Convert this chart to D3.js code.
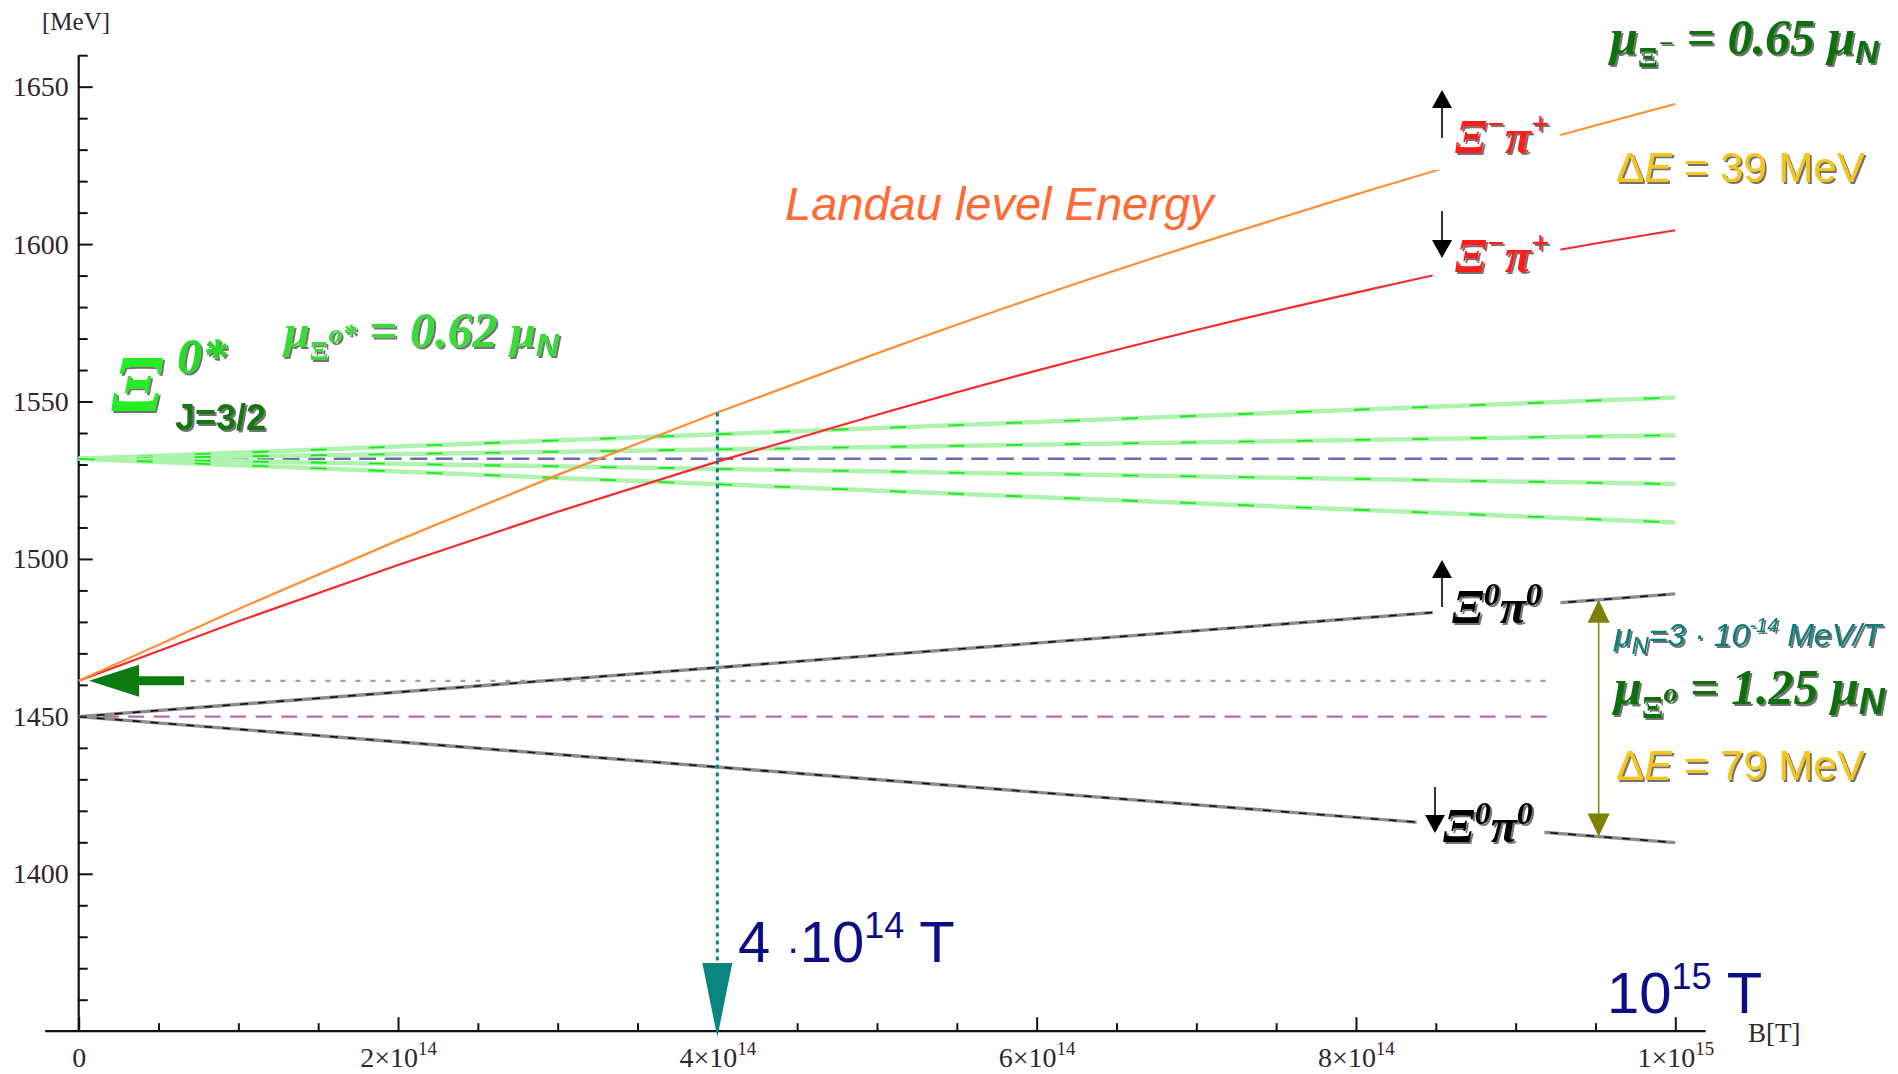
<!DOCTYPE html>
<html>
<head>
<meta charset="utf-8">
<script src="https://cdn.jsdelivr.net/npm/d3@7"></script>
<style>
  html, body { margin: 0; padding: 0; background: #fff; }
  svg { display: block; }
</style>
</head>
<body>
<svg id="chart" width="1898" height="1074"></svg>
<script>
// magnetic field B, in units of 1e14 T
const fieldB = [0, 1, 2, 3, 4, 5, 6, 7, 8, 9, 10];
// Landau level energy of the Xi- pi+ pair, spin up / spin down (MeV)
const xiMinusPiUp   = [1461.3, 1484.1, 1505.9, 1526.7, 1546.5, 1565.3, 1583.2, 1600.0, 1615.8, 1630.7, 1644.5];
const xiMinusPiDown = [1461.3, 1480.2, 1498.1, 1515.0, 1530.9, 1545.8, 1559.8, 1572.7, 1584.6, 1595.6, 1604.4];

// straight levels only need their two ends
const fieldEnds = [0, 10];
const xi0Pi0Up   = [1449.9, 1488.9];
const xi0Pi0Down = [1449.9, 1409.9];
// Xi(1530) J=3/2 Zeeman sub-levels
const xiStarM32  = [1531.8, 1551.3];
const xiStarM12  = [1531.8, 1539.3];
const xiStarMm12 = [1531.8, 1523.8];
const xiStarMm32 = [1531.8, 1511.6];

// zero-field reference levels (MeV)
const levelXiStar   = 1531.8;
const levelXiMinPi  = 1461.3;
const levelXi0Pi0   = 1449.9;

// marked field values (1e14 T)
const crossingB = 4;
const splitB = 9.52;

// axis ticks
const xMajorTicks = [0, 2, 4, 6, 8, 10];
const xTickMantissa = ['0', '2', '4', '6', '8', '1'];
const xTickExponent = ['', '14', '14', '14', '14', '15'];
const yMajorTicks = [1400, 1450, 1500, 1550, 1600, 1650];

const svg = d3.select('#chart');
const serif = '"Liberation Serif", "Times New Roman", serif';
const sans = '"Liberation Sans", Arial, sans-serif';

const x = d3.scaleLinear().domain([0, 10]).range([78.7, 1675.3]);
const y = d3.scaleLinear().domain([1350, 1660]).range([1031.2, 55.2]);

// drop shadow used by the PowerPoint-style labels
const defs = svg.append('defs');
defs.append('filter').attr('id', 'shadow')
    .attr('x', '-10%').attr('y', '-20%').attr('width', '130%').attr('height', '150%')
  .append('feDropShadow')
    .attr('dx', 2).attr('dy', 2).attr('stdDeviation', 0.6)
    .attr('flood-color', '#000').attr('flood-opacity', 0.55);

// ---------- axes ----------
const xMinor = d3.range(0.5, 10.01, 0.5).filter(v => v % 2 !== 0);
const yMinor = d3.range(1360, 1661, 10).filter(v => v % 50 !== 0);

const gxMinor = svg.append('g').attr('transform', `translate(0,${y(1350)})`)
  .call(d3.axisBottom(x).tickValues(xMinor).tickSize(-8).tickFormat(''));
const gxMajor = svg.append('g').attr('transform', `translate(0,${y(1350)})`)
  .call(d3.axisBottom(x).tickValues(xMajorTicks).tickSize(-14).tickPadding(16));
const gyMinor = svg.append('g').attr('transform', `translate(${x(0)},0)`)
  .call(d3.axisLeft(y).tickValues(yMinor).tickSize(-9).tickFormat(''));
const gyMajor = svg.append('g').attr('transform', `translate(${x(0)},0)`)
  .call(d3.axisLeft(y).tickValues(yMajorTicks).tickSize(-14).tickPadding(10).tickFormat(d3.format('d')));

[gxMinor, gxMajor, gyMinor, gyMajor].forEach(g => {
  g.select('.domain').remove();
  g.selectAll('.tick line').attr('stroke', '#111').attr('stroke-width', 2);
  g.selectAll('.tick text').attr('font-family', serif).attr('font-size', 28).attr('fill', '#33262a');
});

gxMajor.selectAll('.tick text').each(function(d, i) {
  const t = d3.select(this).text('');
  if (!xTickExponent[i]) { t.text(xTickMantissa[i]); return; }
  t.append('tspan').text(xTickMantissa[i] + '\u00d710');
  t.append('tspan').attr('font-size', 19).attr('dy', -12).text(xTickExponent[i]);
});

// axis lines (x axis reaches a little past both ends)
svg.append('line')
  .attr('x1', x(-0.21)).attr('x2', x(10.19))
  .attr('y1', y(1350)).attr('y2', y(1350))
  .attr('stroke', '#111').attr('stroke-width', 2.2);
svg.append('line')
  .attr('x1', x(0)).attr('x2', x(0))
  .attr('y1', y(1350)).attr('y2', y(1660))
  .attr('stroke', '#111').attr('stroke-width', 2.2);

svg.append('text').attr('x', 42).attr('y', 30)
  .attr('font-family', serif).attr('font-size', 25).attr('fill', '#33262a')
  .text('[MeV]');
svg.append('text').attr('x', 1748).attr('y', 1042)
  .attr('font-family', serif).attr('font-size', 27).attr('fill', '#33262a')
  .text('B[T]');

// ---------- levels ----------
const line = d3.line().x(d => x(d[0])).y(d => y(d[1])).curve(d3.curveMonotoneX);
const pairs = (bs, es) => bs.map((b, i) => [b, es[i]]);

function hLevel(value, from, to, color, dash, width) {
  svg.append('line')
    .attr('x1', x(from)).attr('x2', x(to))
    .attr('y1', y(value)).attr('y2', y(value))
    .attr('stroke', color).attr('stroke-width', width)
    .attr('stroke-dasharray', dash);
}
hLevel(levelXiStar, 0, 10, '#6b6bb5', '17,8.5', 2.4);
hLevel(levelXiMinPi, 0.7, 9.23, '#bb9a72', '5,10', 2.2);
hLevel(levelXi0Pi0, 0.15, 9.23, '#b76bb7', '16,9.5', 2.2);

// Xi* sub-levels: pale band with bright green streaks
[xiStarM32, xiStarM12, xiStarMm12, xiStarMm32].forEach(levels => {
  const d = line(pairs(fieldEnds, levels));
  svg.append('path').attr('d', d).attr('fill', 'none')
    .attr('stroke', '#aef4ae').attr('stroke-width', 4.5);
  svg.append('path').attr('d', d).attr('fill', 'none')
    .attr('stroke', '#1ee61e').attr('stroke-width', 1.8)
    .attr('stroke-dasharray', '16,42');
});

// Xi0 pi0 levels
[xi0Pi0Up, xi0Pi0Down].forEach(levels => {
  const d = line(pairs(fieldEnds, levels));
  svg.append('path').attr('d', d).attr('fill', 'none')
    .attr('stroke', '#8d8d8d').attr('stroke-width', 3.4);
  svg.append('path').attr('d', d).attr('fill', 'none')
    .attr('stroke', '#111').attr('stroke-width', 1.6)
    .attr('stroke-dasharray', '8,10');
});

// Landau levels
svg.append('path').attr('d', line(pairs(fieldB, xiMinusPiDown))).attr('fill', 'none')
  .attr('stroke', '#f52a2a').attr('stroke-width', 2.2);
svg.append('path').attr('d', line(pairs(fieldB, xiMinusPiUp))).attr('fill', 'none')
  .attr('stroke', '#ff8f35').attr('stroke-width', 2.2);

// ---------- marker at 4e14 T ----------
svg.append('line')
  .attr('x1', x(crossingB)).attr('x2', x(crossingB))
  .attr('y1', y(xiMinusPiUp[fieldB.indexOf(crossingB)])).attr('y2', 963)
  .attr('stroke', '#0a8080').attr('stroke-width', 3)
  .attr('stroke-dasharray', '4,4');
svg.append('path')
  .attr('d', `M${x(crossingB) - 15},963 L${x(crossingB) + 15},963 L${x(crossingB)},1037 Z`)
  .attr('fill', '#0a8580');

// ---------- white boxes where labels cut the levels ----------
const boxes = [
  [8.48, 9.28, 112, 170],
  [8.48, 9.28, 226, 290],
  [8.48, 9.28, 582, 634],
  [8.38, 9.18, 800, 856]
];
svg.selectAll('rect.cut').data(boxes).join('rect').attr('class', 'cut')
  .attr('x', d => x(d[0])).attr('width', d => x(d[1]) - x(d[0]))
  .attr('y', d => d[2]).attr('height', d => d[3] - d[2])
  .attr('fill', '#fff');

// ---------- spin arrows ----------
function spinArrow(cx, stemEnd, tip, up) {
  const base = up ? tip + 18 : tip - 18;
  svg.append('line').attr('x1', cx).attr('x2', cx).attr('y1', stemEnd).attr('y2', base)
    .attr('stroke', '#000').attr('stroke-width', 1.6);
  svg.append('path').attr('d', `M${cx - 10},${base} L${cx + 10},${base} L${cx},${tip} Z`).attr('fill', '#000');
}
spinArrow(1442, 138, 90, true);
spinArrow(1442, 211, 258, false);
spinArrow(1442, 607, 560, true);
spinArrow(1435, 787, 833, false);

// olive double arrow between the Xi0 pi0 levels
const upAt = d3.interpolateNumber(xi0Pi0Up[0], xi0Pi0Up[1])(splitB / 10);
const downAt = d3.interpolateNumber(xi0Pi0Down[0], xi0Pi0Down[1])(splitB / 10);
const ax = x(splitB), ay1 = y(upAt), ay2 = y(downAt);
svg.append('line').attr('x1', ax).attr('x2', ax).attr('y1', ay1 + 20).attr('y2', ay2 - 20)
  .attr('stroke', '#8a8a1a').attr('stroke-width', 1.6);
svg.append('path').attr('d', `M${ax - 11},${ay1 + 23} L${ax + 11},${ay1 + 23} L${ax},${ay1} Z`).attr('fill', '#7f7f00');
svg.append('path').attr('d', `M${ax - 11},${ay2 - 23} L${ax + 11},${ay2 - 23} L${ax},${ay2} Z`).attr('fill', '#7f7f00');

// green arrow at the Xi- pi+ threshold
const ty = y(levelXiMinPi);
svg.append('path')
  .attr('d', `M89,${ty} L139,${ty - 16} L139,${ty - 4.5} L184,${ty - 4.5} L184,${ty + 4.5} L139,${ty + 4.5} L139,${ty + 16} Z`)
  .attr('fill', '#0f7a0f');

// ---------- text labels ----------
// parts: [text, size, rise, extra attributes]
function label(px, py, color, parts, opts = {}) {
  const t = svg.append('text').attr('x', px).attr('y', py).attr('fill', color)
    .attr('font-family', opts.family || serif)
    .attr('font-style', opts.style || 'italic')
    .attr('font-weight', opts.weight || 'bold');
  if (opts.shadow !== false) t.attr('filter', 'url(#shadow)');
  let prev = 0;
  parts.forEach(([s, size, rise, st]) => {
    const span = t.append('tspan').attr('font-size', size).attr('dy', prev - rise).text(s);
    if (st) Object.entries(st).forEach(([k, v]) => span.attr(k, v));
    prev = rise;
  });
  return t;
}

const upright = { 'font-style': 'normal' };
const sansBI = { 'font-family': sans };

label(1610, 54, '#0e700e', [
  ['\u03bc', 50, 0], ['\u039e', 30, -13, upright], ['\u2212', 26, 2], [' = 0.65 ', 50, 0],
  ['\u03bc', 50, 0], ['N', 32, -9, sansBI]
]);
label(1616, 182, '#f6c51d', [
  ['\u0394', 42, 0, upright], ['E', 42, 0], [' = 39 MeV', 42, 0, upright]
], { family: sans, weight: 'normal' });

label(1455, 153, '#ff1a1a', [['\u039e', 48, 0], ['\u2212', 30, 19], ['\u03c0', 48, 0], ['+', 32, 19]]);
label(1455, 272, '#ff1a1a', [['\u039e', 48, 0], ['\u2212', 30, 19], ['\u03c0', 48, 0], ['+', 32, 19]]);
label(1452, 623, '#000', [['\u039e', 48, 0], ['0', 32, 18], ['\u03c0', 48, 0], ['0', 32, 18]]);
label(1443, 842, '#000', [['\u039e', 48, 0], ['0', 32, 18], ['\u03c0', 48, 0], ['0', 32, 18]]);

label(1614, 646, '#0b7b7b', [
  ['\u03bc', 32, 0], ['N', 24, -8], ['=3 \u00b7 10', 32, 0], ['-14', 20, 14], [' MeV/T', 32, 0]
], { family: sans, weight: 'normal' });
label(1614, 704, '#0e700e', [
  ['\u03bc', 50, 0], ['\u039e', 32, -14, upright], ['o', 28, 2], [' = 1.25 ', 50, 0],
  ['\u03bc', 50, 0], ['N', 36, -10, sansBI]
]);
label(1616, 780, '#f6c51d', [
  ['\u0394', 42, 0, upright], ['E', 42, 0], [' = 79 MeV', 42, 0, upright]
], { family: sans, weight: 'normal' });

label(785, 220, '#ff6a35', [['Landau level Energy', 47, 0]], { family: sans, weight: 'normal', shadow: false });

label(111, 411, '#22ee22', [['\u039e', 80, 0]]);
label(177, 373, '#22dd22', [['0*', 50, 0]]);
label(175, 430, '#127612', [['J=3/2', 36, 0]], { family: sans, style: 'normal' });
label(284, 347, '#3ada3a', [
  ['\u03bc', 46, 0], ['\u039e', 28, -13, upright], ['o*', 28, 4], [' = 0.62 ', 50, 0],
  ['\u03bc', 46, 0], ['N', 32, -9, sansBI]
]);

label(738, 962, '#0d0d85', [['4 ', 58, 0], ['\u00b7', 40, 0], ['10', 58, 0], ['14', 36, 24], [' T', 58, 0]],
  { family: sans, style: 'normal', weight: 'normal', shadow: false });
label(1607, 1013, '#0d0d85', [['10', 58, 0], ['15', 36, 24], [' T', 58, 0]],
  { family: sans, style: 'normal', weight: 'normal', shadow: false });
</script>
</body>
</html>
